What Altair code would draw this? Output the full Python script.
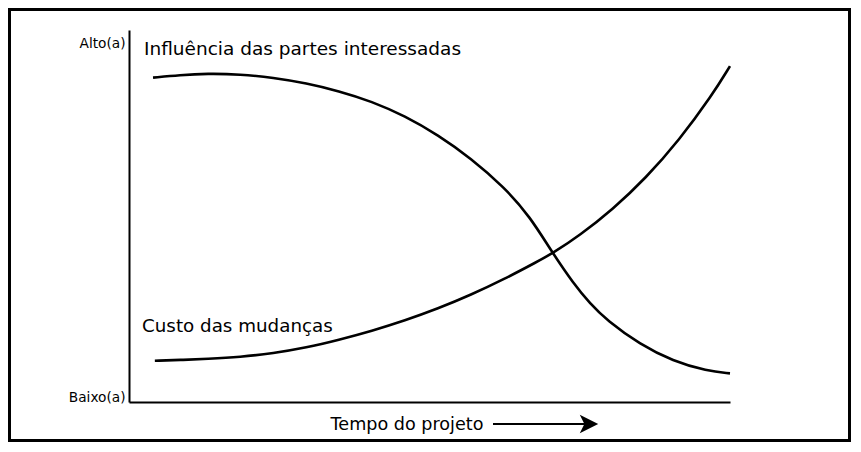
import altair as alt
import pandas as pd

# ---- data (time 0..100, level 0..100) ----
influence_t = [4.0, 8.5, 13.0, 18.5, 24.0, 29.5, 34.9, 40.4, 45.9, 51.4, 56.9, 62.4, 66.7,
               70.5, 73.9, 76.7, 79.5, 85.0, 90.5, 96.2, 100]
influence_v = [87.2, 87.9, 88.3, 88.1, 87.2, 85.7, 83.6, 80.8, 76.9, 71.8, 65.5, 57.8, 49.9,
               40.0, 32.0, 26.5, 22.0, 15.5, 11.0, 8.3, 7.7]
cost_t = [4.3, 8.7, 13.0, 18.5, 24.0, 29.5, 34.9, 40.4, 45.9, 51.4, 56.9, 62.4, 67.9,
          70.5, 75.0, 80.5, 86.0, 91.5, 97.0, 100]
cost_v = [11.1, 11.3, 11.6, 12.1, 13.1, 14.6, 16.7, 19.1, 21.9, 25.1, 28.8, 33.0, 37.7,
          40.0, 44.8, 51.8, 60.2, 70.3, 82.4, 90.3]

series_names = ["Influência das partes interessadas", "Custo das mudanças"]
y_tick_values = [1.1, 96.5]
y_tick_labels = ["Baixo(a)", "Alto(a)"]
x_title = "Tempo do projeto"

FONT = "DejaVu Sans"

df = pd.concat([
    pd.DataFrame({"t": influence_t, "v": influence_v, "serie": series_names[0]}),
    pd.DataFrame({"t": cost_t, "v": cost_v, "serie": series_names[1]}),
])

label_expr = "datum.value > 50 ? '%s' : '%s'" % (y_tick_labels[1], y_tick_labels[0])

lines = alt.Chart(df).mark_line(
    interpolate="basis", color="black", strokeWidth=2.6
).encode(
    x=alt.X("t:Q", scale=alt.Scale(domain=[0, 100], nice=False, zero=False),
            axis=alt.Axis(title=x_title, labels=False, ticks=False, grid=False,
                          domainColor="black", domainWidth=2,
                          titleFont=FONT, titleFontSize=17.6, titleFontWeight="normal",
                          titleColor="black", titleX=277.5, titleY=22,
                          titleAlign="center", titleBaseline="middle")),
    y=alt.Y("v:Q", scale=alt.Scale(domain=[0, 100], nice=False, zero=False),
            axis=alt.Axis(title=None, values=y_tick_values, labelExpr=label_expr,
                          ticks=False, tickSize=0, grid=False, labelFlush=False,
                          labelPadding=4, labelFont=FONT, labelFontSize=13.7,
                          labelColor="black", domainColor="black", domainWidth=2)),
    detail="serie:N",
)

one = pd.DataFrame({"k": [0]})

lab_df = pd.DataFrame({"serie": series_names})
label_infl = alt.Chart(lab_df).transform_filter(
    alt.datum.serie == series_names[0]
).mark_text(align="left", baseline="middle", font=FONT, fontSize=18.5, color="black").encode(
    text="serie:N", x=alt.value(15), y=alt.value(19)
)
label_cost = alt.Chart(lab_df).transform_filter(
    alt.datum.serie == series_names[1]
).mark_text(align="left", baseline="middle", font=FONT, fontSize=18.3, color="black").encode(
    text="serie:N", x=alt.value(13), y=alt.value(297)
)

arrow_line = alt.Chart(one).mark_rule(color="black", strokeWidth=2).encode(
    x=alt.value(364), x2=alt.value(456), y=alt.value(394)
)
arrow_head = alt.Chart(one).mark_point(
    shape="M-1,-1L1,0L-1,1L-0.5,0Z", filled=True, color="black", opacity=1, size=340
).encode(x=alt.value(460), y=alt.value(394))

frame = alt.Chart(one).mark_rect(fillOpacity=0, stroke="black", strokeWidth=3).encode(
    x=alt.value(-119.5), x2=alt.value(720.5), y=alt.value(-20.5), y2=alt.value(410.5)
)

chart = alt.layer(frame, lines, label_infl, label_cost, arrow_line, arrow_head).properties(
    width=601, height=372,
    padding={"left": 121, "top": 22, "right": 121, "bottom": 40},
    autosize="none",
    background="white",
).configure_view(stroke=None)

chart.save("out.html", embed_options={"renderer": "svg", "actions": False})
